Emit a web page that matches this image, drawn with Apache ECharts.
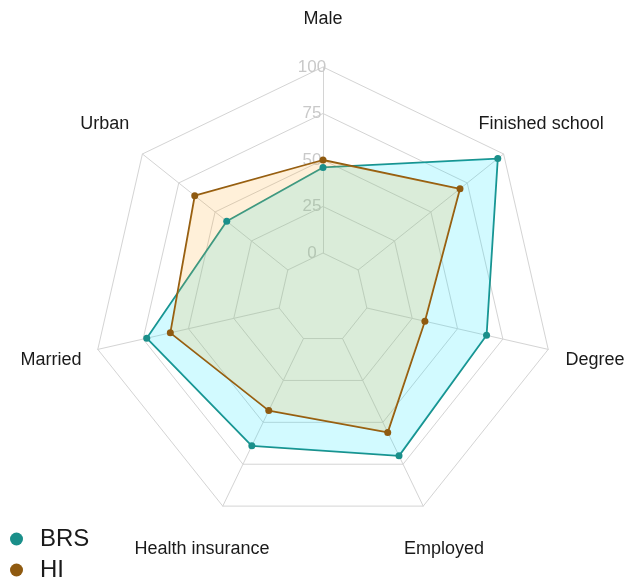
<!DOCTYPE html>
<html>
<head>
<meta charset="utf-8">
<script src="https://cdn.jsdelivr.net/npm/echarts@6/dist/echarts.min.js"></script>
<style>html,body{margin:0;padding:0;background:#fff}#c{width:625px;height:578px}</style>
</head>
<body>
<div id="c"></div>
<script>
// Indicators listed clockwise from the top, as in the reference
const categories = ['Male', 'Finished school', 'Degree', 'Employed', 'Health insurance', 'Married', 'Urban'];
const brsValues = [46, 96, 66, 70, 64, 73, 42];
const hiValues = [50, 70, 32, 56, 43, 60, 64];
const seriesNames = ['BRS', 'HI'];
const tickValues = [0, 25, 50, 75, 100];

// ECharts places radar indicators counter-clockwise, so reverse all but the first
function toCcw(arr) { return [arr[0]].concat(arr.slice(1).reverse()); }

const chart = echarts.init(document.getElementById('c'), null, {renderer: 'canvas'});
const indicator = toCcw(categories).map(function (name, i) {
  const ind = {name: name, min: tickValues[0], max: tickValues[tickValues.length - 1]};
  if (i === 0) {
    ind.axisLabel = {show: true, color: '#c9c9c9', fontSize: 17, fontFamily: 'Liberation Sans', margin: 11, align: 'center'};
  }
  return ind;
});

chart.setOption({
  animation: false,
  backgroundColor: '#ffffff',
  legend: {
    data: seriesNames,
    orient: 'vertical',
    left: 10,
    top: 527,
    height: 120,
    padding: 0,
    icon: 'circle',
    itemWidth: 13,
    itemHeight: 13,
    itemGap: 7,
    textStyle: {fontSize: 24, color: '#1a1a1a', fontFamily: 'Liberation Sans', padding: [0, 0, 0, 12]}
  },
  radar: {
    center: [323, 298],
    radius: [45, 231],
    startAngle: 90,
    splitNumber: 4,
    shape: 'polygon',
    axisNameGap: 48,
    axisName: {color: '#1a1a1a', fontSize: 18, fontFamily: 'Liberation Sans', align: 'center', verticalAlign: 'middle'},
    axisLine: {lineStyle: {color: '#d4d4d4', width: 1}},
    splitLine: {lineStyle: {color: '#d4d4d4', width: 1}},
    splitArea: {show: false},
    axisLabel: {show: false},
    indicator: indicator
  },
  series: [{
    type: 'radar',
    symbol: 'circle',
    symbolSize: 7,
    data: [
      {
        name: seriesNames[0],
        value: toCcw(brsValues),
        itemStyle: {color: '#1a8f8a'},
        lineStyle: {color: '#1a8f8a', width: 1.8},
        areaStyle: {color: 'rgba(0,228,255,0.25)'}
      },
      {
        name: seriesNames[1],
        value: toCcw(hiValues),
        itemStyle: {color: '#8f5a10'},
        lineStyle: {color: '#8f5a10', width: 1.8},
        areaStyle: {color: 'rgba(255,170,40,0.25)'}
      }
    ]
  }]
});
</script>
</body>
</html>
